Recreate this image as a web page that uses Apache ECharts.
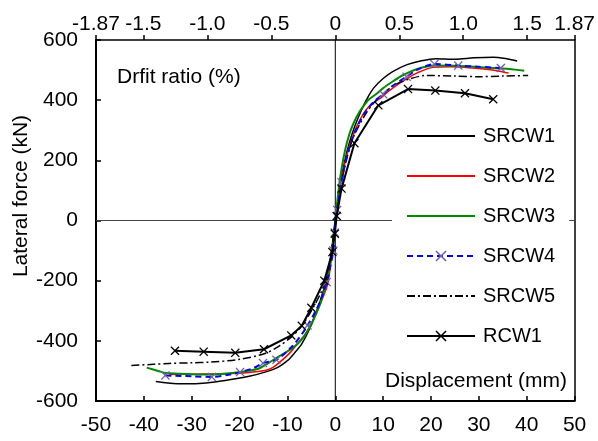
<!DOCTYPE html>
<html>
<head>
<meta charset="utf-8">
<script src="https://cdn.jsdelivr.net/npm/echarts@6/dist/echarts.min.js"></script>
<style>html,body{margin:0;padding:0;background:#fff}#c{width:598px;height:441px}</style>
</head>
<body>
<div id="c"></div>
<script>
// ---- data (displacement mm, lateral force kN) ----
const X_TICKS = [-50, -40, -30, -20, -10, 0, 10, 20, 30, 40, 50];
const Y_TICKS = [-600, -400, -200, 0, 200, 400, 600];
const DRIFT_VALUES = [-1.87, -1.5, -1.0, -0.5, 0, 0.5, 1.0, 1.5, 1.87];
const DRIFT_LABELS = ['-1.87', '-1.5', '-1.0', '-0.5', '0', '0.5', '1.0', '1.5', '1.87'];
const SERIES_NAMES = ['SRCW1', 'SRCW2', 'SRCW3', 'SRCW4', 'SRCW5', 'RCW1'];

const SRCW1 = [[-37.5,-535],[-35,-540],[-31.3,-543],[-27,-540],[-23,-532],[-18,-518],[-14.7,-504],[-12,-488],[-10,-466],[-8.5,-440],[-7,-410],[-5.5,-365],[-4,-305],[-3,-260],[-2,-205],[-1,-125],[-0.5,-70],[0,0],
  [0.5,60],[1,120],[2,200],[3,262],[4,310],[5,350],[6,385],[7,415],[8,440],[10,472],[12,495],[15,518],[18,531],[21,538],[25,536],[29,541],[33,543],[36,537],[38,530]];
const SRCW2 = [[-34.7,-512],[-30,-511],[-25,-510],[-21.7,-509],[-18,-505],[-14.5,-498],[-13,-488],[-11.6,-471],[-9.5,-440],[-7.9,-409],[-6.5,-383],[-5.4,-354],[-4,-310],[-3,-272],[-1.65,-215],[-1,-150],[-0.5,-80],[0,0],
  [0.5,55],[1,110],[2,190],[3,250],[4,295],[5,330],[6,358],[7,378],[8,392],[9.3,405],[11,428],[13,452],[15,472],[17,490],[20.4,509],[24,511],[28,508],[32,502],[34,497],[36.2,490]];
const SRCW3 = [[-39.4,-489],[-37,-500],[-35.4,-507],[-30,-511],[-26.4,-512],[-22,-508],[-19,-502],[-16.1,-493],[-14,-474],[-12,-454],[-10,-435],[-8,-412],[-6.5,-385],[-5,-345],[-4,-310],[-3,-270],[-2,-215],[-1,-135],[-0.5,-70],[0,0],
  [0.5,75],[1,140],[2,230],[3,290],[4,330],[5,360],[6,383],[7,402],[8.7,422],[10,440],[12,462],[14,482],[17,503],[20.7,515],[25,514],[30,510],[35,505],[39.5,498]];
const SRCW4 = [[-35.5,-515],[-30,-518],[-25.8,-520],[-22,-512],[-19.9,-504],[-17,-490],[-15.1,-474],[-12.3,-463],[-9,-418],[-7,-378],[-5.8,-349],[-4,-298],[-3,-262],[-1.8,-205],[-1,-150],[-0.4,-100],[-0.1,-40],[0,0],
  [0.4,35],[1.3,127],[2,185],[3,245],[4,290],[5,325],[6,354],[7,376],[8,394],[10,420],[12,448],[14.9,478],[17,500],[20.7,520],[25.7,515],[30,511],[34.6,507]];
const SRCW4_MARKS = [[-35.5,-515],[-25.8,-520],[-19.9,-504],[-15.1,-474],[-12.3,-463],[-5.8,-349],[-1.8,-205],[-0.4,-100],[-0.1,-40],[0.4,35],[1.3,127],[10,420],[14.9,478],[20.7,520],[25.7,515],[34.6,507]];
const SRCW5 = [[-42.6,-482],[-38,-478],[-34.7,-475],[-30,-473],[-26.4,-471],[-20.2,-462],[-14.7,-442],[-12,-420],[-9,-385],[-7,-350],[-5,-300],[-3,-240],[-2,-195],[-1,-120],[-0.5,-65],[0,0],
  [0.5,50],[1,100],[2,180],[3,240],[4,285],[6,345],[8,390],[10,420],[12.1,448],[15,468],[19,482],[25,480],[30,478],[35,480],[40.3,482]];
const RCW1 = [[-33.5,-433],[-27.5,-436],[-20.9,-440],[-14.9,-428],[-9.2,-382],[-7,-350],[-5,-290],[-2.3,-200],[-0.6,-105],[-0.1,-44],[0.3,15],[1.3,106],[4,257],[9,383],[15.2,437],[20.9,432],[27.1,423],[33,403]];

// ---- chart ----
const FONT = '"Liberation Sans", Arial, sans-serif';
const XMARK = 'path://M0,1L1,0L5,4L9,0L10,1L6,5L10,9L9,10L5,6L1,10L0,9L4,5Z';
const markSet = new Set(SRCW4_MARKS.map(p => p.join(',')));
const srcw4Data = SRCW4.map(p => markSet.has(p.join(',')) ? { value: p } : { value: p, symbol: 'none' });
const NO_MARK = ['SRCW1', 'SRCW2', 'SRCW3', 'SRCW5'];
const legendData = SERIES_NAMES.map(n => NO_MARK.includes(n) ? { name: n, itemStyle: { opacity: 0 } } : { name: n });

const chart = echarts.init(document.getElementById('c'), null, { renderer: 'canvas' });
const axisTxt = { color: '#000', fontSize: 21, fontFamily: FONT };

chart.setOption({
  animation: false,
  backgroundColor: '#fff',
  grid: { left: 96, right: 18, top: 40, bottom: 40, containLabel: false },
  xAxis: [
    { type: 'value', position: 'bottom', min: X_TICKS[0], max: X_TICKS[X_TICKS.length - 1], interval: 10,
      axisLine: { show: true, onZero: false, lineStyle: { color: '#000', width: 2 } },
      axisTick: { show: true, inside: true, length: 5, lineStyle: { color: '#000', width: 1.5 } },
      axisLabel: Object.assign({ margin: 14 }, axisTxt), splitLine: { show: false } },
    { type: 'value', position: 'top', min: DRIFT_VALUES[0], max: DRIFT_VALUES[DRIFT_VALUES.length - 1],
      axisLine: { show: true, onZero: false, lineStyle: { color: '#000', width: 1.5 } },
      axisTick: { show: true, inside: false, length: 5, customValues: DRIFT_VALUES, lineStyle: { color: '#000', width: 1.5 } },
      axisLabel: Object.assign({ margin: 5, customValues: DRIFT_VALUES,
        formatter: v => { const i = DRIFT_VALUES.findIndex(d => Math.abs(d - v) < 1e-6); return i >= 0 ? DRIFT_LABELS[i] : ''; } }, axisTxt),
      splitLine: { show: false } }
  ],
  yAxis: [
    { type: 'value', position: 'left', min: Y_TICKS[0], max: Y_TICKS[Y_TICKS.length - 1], interval: 200,
      axisLine: { show: true, onZero: false, lineStyle: { color: '#000', width: 2 } },
      axisTick: { show: true, inside: true, length: 5, lineStyle: { color: '#000', width: 1.5 } },
      axisLabel: Object.assign({ margin: 18 }, axisTxt), splitLine: { show: false } },
    { type: 'value', position: 'right', min: Y_TICKS[0], max: Y_TICKS[Y_TICKS.length - 1],
      axisLine: { show: true, onZero: false, lineStyle: { color: '#000', width: 1.5 } },
      axisTick: { show: false }, axisLabel: { show: false }, splitLine: { show: false } }
  ],
  legend: {
    data: legendData, orient: 'vertical', left: 392, top: 120,
    padding: [6, 14, 6, 14], itemGap: 20, itemWidth: 68, itemHeight: 14,
    backgroundColor: '#fff',
    textStyle: { color: '#000', fontSize: 20, fontFamily: FONT, lineHeight: 20, padding: [0, 0, 0, 3] }
  },
  graphic: [
    { type: 'text', left: 117, top: 67, style: { text: 'Drfit ratio (%)', fill: '#000', font: '21px ' + FONT } },
    { type: 'text', left: 385, top: 371, style: { text: 'Displacement (mm)', fill: '#000', font: '21px ' + FONT } },
    { type: 'text', x: 21, y: 196, rotation: Math.PI / 2,
      style: { text: 'Lateral force (kN)', fill: '#000', font: '21px ' + FONT, align: 'center', verticalAlign: 'middle' } }
  ],
  series: [
    { name: 'zeroH', type: 'line', data: [[X_TICKS[0], 0], [X_TICKS[X_TICKS.length - 1], 0]], symbol: 'none', silent: true, z: 1,
      lineStyle: { color: '#444', width: 1 } },
    { name: 'zeroV', type: 'line', data: [[0, Y_TICKS[0]], [0, Y_TICKS[Y_TICKS.length - 1]]], symbol: 'none', silent: true, z: 1,
      lineStyle: { color: '#000', width: 1 } },
    { name: 'SRCW1', type: 'line', data: SRCW1, symbol: 'none', smooth: 0.3, z: 3,
      lineStyle: { color: '#000', width: 1.5 }, itemStyle: { color: '#000', opacity: 0 } },
    { name: 'SRCW2', type: 'line', data: SRCW2, symbol: 'none', smooth: 0.3, z: 3,
      lineStyle: { color: '#ff0000', width: 1.5 }, itemStyle: { color: '#ff0000', opacity: 0 } },
    { name: 'SRCW3', type: 'line', data: SRCW3, symbol: 'none', smooth: 0.3, z: 3,
      lineStyle: { color: '#008a00', width: 2 }, itemStyle: { color: '#008a00', opacity: 0 } },
    { name: 'SRCW4', type: 'line', data: srcw4Data, symbol: XMARK, symbolSize: 9, showSymbol: true, smooth: 0.3, z: 4,
      lineStyle: { color: '#0000ff', width: 2, type: [6, 4] }, itemStyle: { color: '#7060a8' } },
    { name: 'SRCW5', type: 'line', data: SRCW5, symbol: 'none', smooth: 0.3, z: 3,
      lineStyle: { color: '#000', width: 1.5, type: [8, 3, 2, 3] }, itemStyle: { color: '#000', opacity: 0 } },
    { name: 'RCW1', type: 'line', data: RCW1, symbol: XMARK, symbolSize: 9, z: 5,
      lineStyle: { color: '#000', width: 2 }, itemStyle: { color: '#000' } }
  ]
});
</script>
</body>
</html>
